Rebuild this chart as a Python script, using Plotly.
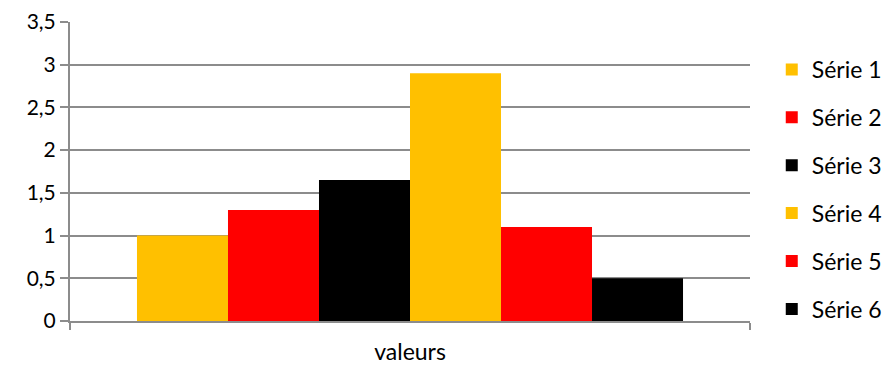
import plotly.graph_objects as go

categories = ["valeurs"]
series_names = ["Série 1", "Série 2", "Série 3", "Série 4", "Série 5", "Série 6"]
series_values = [1.0, 1.3, 1.65, 2.9, 1.1, 0.5]
series_colors = ["#FFC000", "#FF0000", "#000000", "#FFC000", "#FF0000", "#000000"]
y_ticks = [0, 0.5, 1, 1.5, 2, 2.5, 3, 3.5]

FONT = "Lato, Carlito, Calibri, sans-serif"
FS = 21
FS_TXT = 23

fig = go.Figure()
for i, (name, val, col) in enumerate(zip(series_names, series_values, series_colors)):
    fig.add_trace(go.Bar(
        x=categories, y=[val], name=name,
        marker=dict(color=col, line=dict(width=0)),
        legendgroup=f"g{i}",
    ))

fig.update_layout(
    width=889, height=365,
    margin=dict(l=70, r=139, t=22, b=44, autoexpand=False),
    paper_bgcolor="white", plot_bgcolor="white",
    barmode="group", bargap=0.197, bargroupgap=0,
    separators=",.",
    font=dict(family=FONT, size=FS, color="#000000"),
    showlegend=True,
    legend=dict(
        x=1.032, xanchor="left", y=0.44, yanchor="middle",
        traceorder="grouped", tracegroupgap=15,
        font=dict(family=FONT, size=FS_TXT, color="#000000"),
        itemwidth=30, bgcolor="rgba(0,0,0,0)",
    ),
    xaxis=dict(
        type="category", range=[-0.5, 0.5],
        showline=True, linecolor="#8c8c8c", linewidth=2,
        ticks="outside", tickson="boundaries", ticklen=7, tickcolor="#8c8c8c", tickwidth=2,
        showgrid=False, zeroline=False,
        ticklabelstandoff=9,
        tickfont=dict(family=FONT, size=FS_TXT),
    ),
    yaxis=dict(
        range=[0, 3.5], tickvals=y_ticks,
        showline=True, linecolor="#8c8c8c", linewidth=2,
        ticks="outside", ticklen=8, tickcolor="#8c8c8c", tickwidth=2,
        showgrid=True, gridcolor="#8c8c8c", gridwidth=2,
        zeroline=False,
        tickfont=dict(family=FONT, size=FS),
    ),
)

fig.write_html("out.html")
